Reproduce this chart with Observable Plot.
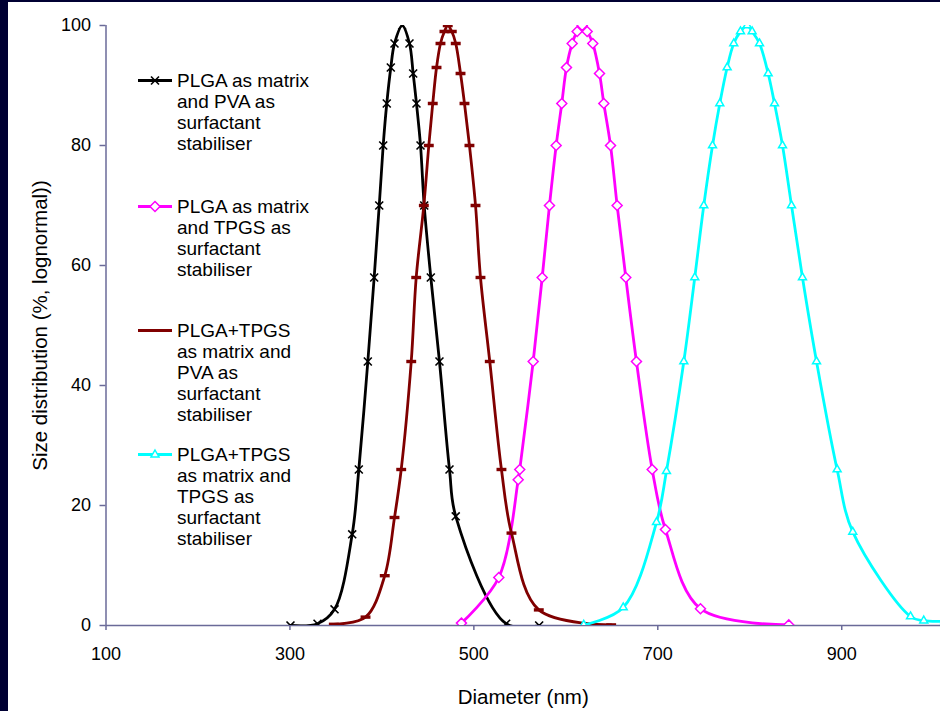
<!DOCTYPE html>
<html>
<head>
<meta charset="utf-8">
<script src="https://cdn.jsdelivr.net/npm/d3@7"></script>
<script src="https://cdn.jsdelivr.net/npm/@observablehq/plot@0.6"></script>
<style>
  html, body { margin: 0; padding: 0; background: #000033; }
  #wrap { position: relative; width: 940px; height: 711px; overflow: hidden; background: #000033; }
  #chart { position: absolute; left: 8px; top: 2px; width: 932px; height: 709px; background: #ffffff; }
  #legend { position: absolute; left: 0; top: 0; font-family: "Liberation Sans", Arial, sans-serif; font-size: 19px; line-height: 21px; color: #000; }
  .item { position: absolute; left: 138px; }
  .item svg { position: absolute; left: 0; top: 0; }
  .item .txt { position: absolute; left: 39px; top: 0; white-space: pre; }
</style>
</head>
<body>
<div id="wrap">
  <div id="chart"></div>
  <div id="legend"></div>
</div>
<script>
// ---- data ----
const seriesNames = [
  "PLGA as matrix\nand PVA as\nsurfactant\nstabiliser",
  "PLGA as matrix\nand TPGS as\nsurfactant\nstabiliser",
  "PLGA+TPGS\nas matrix and\nPVA as\nsurfactant\nstabiliser",
  "PLGA+TPGS\nas matrix and\nTPGS as\nsurfactant\nstabiliser"
];
const seriesColors = ["#000000", "#ff00ff", "#800000", "#00ffff"];

const pvaX = [300.6, 330.0, 348.5, 367.7, 374.9, 384.7, 391.6, 397.1, 401.4, 405.3, 409.7, 413.7, 422.1,
              430.0, 434.0, 437.6, 442.0, 446.0, 453.2, 462.6, 473.5, 480.3, 535.1, 571.0];
const pvaY = [0, 0.3, 2.7, 15.2, 26, 44, 58, 70, 80, 87, 93, 97, 100,
              97, 92, 87, 80, 70, 58, 44, 26, 18.2, 0.3, 0];

const tpgsX = [486.5, 527.1, 548.2, 549.9, 564.5, 574.3, 582.2, 589.5, 595.6, 600.7, 606.9, 612.3, 617.8,
               623.2, 629.3, 636.6, 641.3, 648.6, 655.8, 665.2, 676.8, 693.9, 708.3, 746.4, 842.4];
const tpgsY = [0.4, 8, 24.3, 26, 44, 58, 70, 80, 87, 93, 97, 99, 100,
               99, 97, 92, 87, 80, 70, 58, 44, 26, 16, 2.8, 0.1];

const mixPvaX = [347.7, 382.2, 403.1, 413.7, 421.0, 431.9, 437.3, 445.6, 451.0, 455.3, 459.4, 463.7, 468.0, 471.6,
                 476.0, 480.3, 485.5, 489.8, 495.2, 501.8, 507.2, 517.3, 530.0, 540.9, 570.6, 649.3];
const mixPvaY = [0.2, 1.4, 8.3, 18, 26, 44, 58, 70, 80, 87, 93, 97, 99, 100,
                 99, 97, 92, 87, 80, 70, 58, 44, 26, 15.4, 2.6, 0.1];

const mixTpgsX = [619.5, 662.4, 698.6, 709.4, 728.3, 740.2, 750.0, 759.5, 767.4, 775.4, 782.6, 789.9, 797.2,
                  802.6, 810.6, 820.0, 826.9, 835.6, 845.4, 857.3, 872.6, 895.0, 912.0, 974.8, 989.2, 1012];
const mixTpgsY = [0.1, 3, 17.2, 25.7, 44, 58, 70, 80, 87, 93, 97, 99, 100,
                  99, 97, 92, 87, 80, 70, 58, 44, 26, 15.6, 1.5, 0.8, 0.7];

const xTicks = [100, 300, 500, 700, 900];
const yTicks = [0, 20, 40, 60, 80, 100];
const xLabel = "Diameter (nm)";
const yLabel = "Size distribution (%, lognormal))";

// ---- build table ----
const xs = [pvaX, tpgsX, mixPvaX, mixTpgsX];
const ys = [pvaY, tpgsY, mixPvaY, mixTpgsY];
const rows = xs.map((arr, s) => arr.map((x, i) => ({s, x, y: ys[s][i]})));

const axisColor = "#6a6a98";

// custom dash marker (Excel "dash")
const dashSymbol = { draw(ctx, size) { const w = Math.sqrt(size) * 0.62; ctx.moveTo(-w, 0); ctx.lineTo(w, 0); } };
const symbols = ["times", "diamond2", dashSymbol, "triangle2"];
const radii = [3.7, 4.5, 4.5, 3.8];
const symStroke = [1.6, 1.5, 3.4, 1.5];
const fills = ["none", "white", "none", "white"];

const seriesMarks = [];
for (const s of [0, 1, 2, 3]) {
  seriesMarks.push(Plot.line(rows[s], {x: "x", y: "y", stroke: seriesColors[s], strokeWidth: 2.8, curve: "catmull-rom", clip: true}));
  seriesMarks.push(Plot.dot(rows[s], {x: "x", y: "y", symbol: () => symbols[s], r: radii[s], stroke: seriesColors[s], fill: fills[s], strokeWidth: symStroke[s], clip: true}));
}

const chart = Plot.plot({
  width: 932,
  height: 709,
  marginLeft: 97.5,
  marginRight: 0,
  marginTop: 23,
  marginBottom: 86,
  style: {fontFamily: "'Liberation Sans', Arial, sans-serif", fontSize: "18px", color: "#000", background: "#fff", overflow: "visible"},
  x: {domain: [100, 1007.4]},
  y: {domain: [0, 100]},
  symbol: {type: "identity"},
  marks: [
    Plot.axisX({ticks: xTicks, tickSize: 5, tickPadding: 17, stroke: axisColor, strokeWidth: 1.5, fill: "#000", fontSize: 18,
                label: xLabel, labelAnchor: "center", labelOffset: 78, labelArrow: "none"}),
    Plot.axisY({ticks: yTicks, tickSize: 6, tickPadding: 9, stroke: axisColor, strokeWidth: 1.5, fill: "#000", fontSize: 18,
                label: yLabel, labelAnchor: "center", labelOffset: 74, labelArrow: "none"}),
    Plot.ruleY([0], {stroke: axisColor, strokeWidth: 1.5}),
    Plot.ruleX([100], {stroke: axisColor, strokeWidth: 1.5}),
    ...seriesMarks
  ]
});
document.getElementById("chart").appendChild(chart);
// axis title font size, and strip any arrow glyphs
chart.querySelectorAll("text").forEach(t => {
  const s = t.textContent;
  if (s.includes(xLabel) || s.includes(yLabel)) {
    t.textContent = s.replace(/\s*[\u2190-\u2193]\s*/g, "").trim();
    t.setAttribute("font-size", "20.5");
  }
});

// ---- legend (HTML) ----
const legendTops = [69.5, 195.5, 319.5, 443.5];
const legendGlyph = [
  '<path d="M-4,-4L4,4M-4,4L4,-4" stroke="#000" stroke-width="1.6" fill="none"/>',
  '<path d="M0,-5L5,0L0,5L-5,0Z" stroke="#ff00ff" stroke-width="1.5" fill="white"/>',
  '',
  '<path d="M0,-4.5L4,2.5L-4,2.5Z" stroke="#00ffff" stroke-width="1.5" fill="white"/>'
];
const legend = document.getElementById("legend");
seriesNames.forEach((name, i) => {
  const div = document.createElement("div");
  div.className = "item";
  div.style.top = legendTops[i] + "px";
  div.innerHTML = `<svg width="36" height="21" viewBox="0 0 36 21"><line x1="0" x2="34" y1="10.5" y2="10.5" stroke="${seriesColors[i]}" stroke-width="2.8"/><g transform="translate(17,10.5)">${legendGlyph[i]}</g></svg><div class="txt"></div>`;
  div.querySelector(".txt").textContent = name;
  legend.appendChild(div);
});
</script>
</body>
</html>
